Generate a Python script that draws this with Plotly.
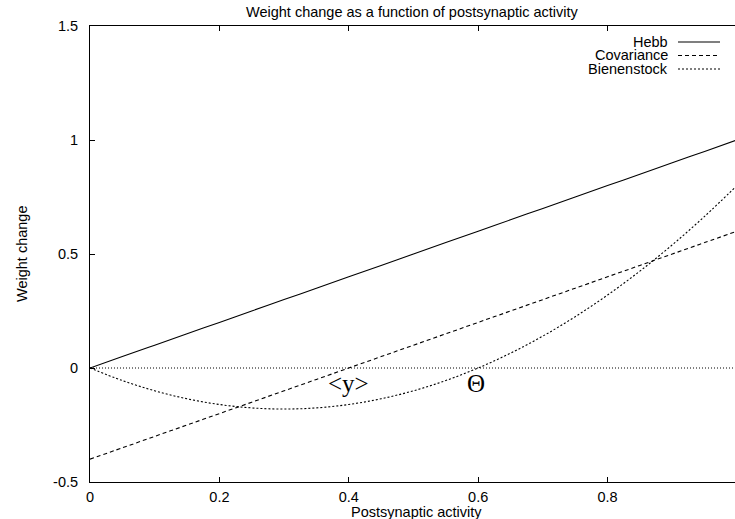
import plotly.graph_objects as go

# Postsynaptic activity sample points
activity = [0.0, 0.05, 0.1, 0.15, 0.2, 0.25, 0.3, 0.35, 0.4, 0.45, 0.5,
            0.55, 0.6, 0.65, 0.7, 0.75, 0.8, 0.85, 0.9, 0.95, 1.0]

# Weight change for each learning rule
hebb = [0.0, 0.05, 0.1, 0.15, 0.2, 0.25, 0.3, 0.35, 0.4, 0.45, 0.5,
        0.55, 0.6, 0.65, 0.7, 0.75, 0.8, 0.85, 0.9, 0.95, 1.0]
covariance = [-0.4, -0.35, -0.3, -0.25, -0.2, -0.15, -0.1, -0.05, 0.0, 0.05, 0.1,
              0.15, 0.2, 0.25, 0.3, 0.35, 0.4, 0.45, 0.5, 0.55, 0.6]
bienenstock = [0.0, -0.055, -0.1, -0.135, -0.16, -0.175, -0.18, -0.175, -0.16, -0.135, -0.1,
               -0.055, 0.0, 0.065, 0.14, 0.225, 0.32, 0.425, 0.54, 0.665, 0.8]

series_names = ["Hebb", "Covariance", "Bienenstock"]
series_dash = ["solid", "4px,3px", "2px,2px"]

x_ticks = [0, 0.2, 0.4, 0.6, 0.8]
y_ticks = [-0.5, 0, 0.5, 1, 1.5]

text_font = dict(family="Liberation Sans, Arial, sans-serif", size=14.5, color="black")

W, H = 735, 519
L, R, T, B = 90, 0, 26, 37
PW, PH = W - L - R, H - T - B


def px(xp):
    """pixel column -> paper x (relative to plot area)"""
    return (xp - L) / PW


def py(yp):
    """pixel row -> paper y (relative to plot area)"""
    return (H - B - yp) / PH


fig = go.Figure()

# zero axis
fig.add_trace(go.Scatter(x=[activity[0], activity[-1]], y=[0, 0], mode="lines",
                         line=dict(color="black", width=1, dash="1px,2px"),
                         showlegend=False, hoverinfo="skip"))

for name, values, dash in zip(series_names, [hebb, covariance, bienenstock], series_dash):
    fig.add_trace(go.Scatter(x=activity, y=values, mode="lines", name=name,
                             line=dict(color="black", width=1.1, dash=dash, shape="spline"),
                             showlegend=False))

# key, drawn text-then-sample at the top right
shapes = []
annotations = []
key_y = [42, 55.5, 69]
for name, dash, ypix in zip(series_names, series_dash, key_y):
    annotations.append(dict(x=px(669), y=py(ypix), xref="paper", yref="paper", text=name,
                            showarrow=False, xanchor="right", yanchor="middle",
                            borderpad=0, font=text_font))
    shapes.append(dict(type="line", xref="paper", yref="paper",
                       x0=px(678), x1=px(720), y0=py(ypix), y1=py(ypix),
                       line=dict(color="black", width=1.1, dash=dash)))

# threshold labels
serif = dict(family="Liberation Serif, DejaVu Serif, serif", size=25, color="black")
annotations.append(dict(x=0.4, y=-0.068, text="&lt;y&gt;", showarrow=False, font=serif))
annotations.append(dict(x=0.596, y=-0.068, text="Θ", showarrow=False, font=serif))

# titles
annotations.append(dict(x=px(412), y=py(12), xref="paper", yref="paper",
                        text="Weight change as a function of postsynaptic activity",
                        showarrow=False, xanchor="center", yanchor="middle", font=text_font))
annotations.append(dict(x=px(416), y=py(512), xref="paper", yref="paper",
                        text="Postsynaptic activity", showarrow=False,
                        xanchor="center", yanchor="middle", font=text_font))
annotations.append(dict(x=px(22), y=py(254), xref="paper", yref="paper",
                        text="Weight change", showarrow=False, textangle=-90,
                        xanchor="center", yanchor="middle", font=text_font))

fig.update_layout(
    width=W, height=H,
    margin=dict(l=L, r=R, t=T, b=B),
    paper_bgcolor="white", plot_bgcolor="white",
    showlegend=False,
    shapes=shapes,
    annotations=annotations,
    xaxis=dict(range=[0, 0.997], tickvals=x_ticks, ticktext=[f"{v:g}" for v in x_ticks],
               showgrid=False, zeroline=False, showline=True, linecolor="black", linewidth=1,
               mirror="allticks", ticks="inside", ticklen=5, tickcolor="black",
               tickfont=text_font, ticklabelstandoff=2),
    yaxis=dict(range=[-0.5, 1.5], tickvals=y_ticks, ticktext=[f"{v:g}" for v in y_ticks],
               showgrid=False, zeroline=False, showline=True, linecolor="black", linewidth=1,
               ticks="inside", ticklen=5, tickcolor="black",
               tickfont=text_font, ticklabelstandoff=8),
)

fig.write_html("out.html")
